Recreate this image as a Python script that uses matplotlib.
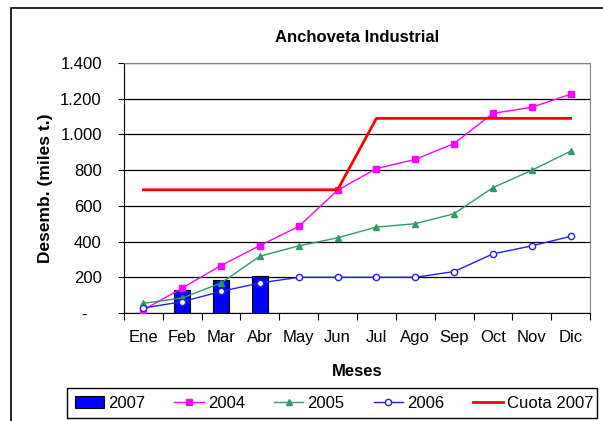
import matplotlib
matplotlib.use('Agg')
import matplotlib.pyplot as plt
from matplotlib.patches import Rectangle, Patch
from matplotlib.lines import Line2D
import numpy as np

plt.rcParams['font.family'] = ['Liberation Sans', 'DejaVu Sans']

# Datos
meses = ['Ene', 'Feb', 'Mar', 'Abr', 'May', 'Jun', 'Jul', 'Ago', 'Sep', 'Oct', 'Nov', 'Dic']
d2007 = [0, 129, 185, 208]
d2004 = [17, 140, 266, 378, 485, 687, 809, 860, 949, 1118, 1152, 1225]
d2005 = [54, 84, 168, 318, 376, 421, 481, 500, 556, 702, 799, 906]
d2006 = [28, 63, 121, 168, 200, 200, 200, 200, 232, 331, 376, 429]
cuota2007 = [690, 690, 690, 690, 690, 690, 1090, 1090, 1090, 1090, 1090, 1090]
yticks = [0, 200, 400, 600, 800, 1000, 1200, 1400]
ylabels = ['-   ', '200', '400', '600', '800', '1.000', '1.200', '1.400']

W, H = 603, 421
fig = plt.figure(figsize=(W / 100, H / 100), dpi=100)
ax = fig.add_axes([124 / W, 1 - 313 / H, 466 / W, 250 / H])

x = np.arange(len(meses))
ax.bar(x[:len(d2007)], d2007, width=0.41, color='#0000FF', edgecolor='black', linewidth=0.8, zorder=2)
ax.plot(x, d2004, color='#FF00FF', lw=1, marker='s', ms=4.5, zorder=3)
ax.plot(x, d2005, color='#339966', lw=1, marker='^', ms=5, zorder=3)
ax.plot(x, d2006, color='#2020F0', lw=1, marker='o', ms=4.5, mfc='white', mec='#2020F0', mew=1, zorder=3)
ax.plot(x, cuota2007, color='#FF0000', lw=2, zorder=4)

ax.set_xlim(-0.5, 11.5)
ax.set_ylim(0, 1400)
ax.set_yticks(yticks)
ax.set_yticklabels(ylabels, fontsize=12)
ax.set_xticks(np.arange(-0.5, 12, 1))
ax.set_xticklabels([])
ax.set_xticks(x, minor=True)
ax.set_xticklabels(meses, minor=True, fontsize=12)
ax.tick_params(axis='x', which='minor', length=0, pad=12)
ax.tick_params(axis='x', which='major', direction='out', length=5, color='black')
ax.tick_params(axis='y', direction='out', length=4, pad=12)
ax.yaxis.grid(True, color='black', lw=0.9)
ax.set_axisbelow(True)
ax.spines['top'].set_color('#808080')
ax.spines['right'].set_color('#808080')
ax.spines['left'].set_color('black')
ax.spines['bottom'].set_color('black')

ax.set_title('Anchoveta Industrial', fontsize=12, fontweight='bold', pad=15)
ax.set_xlabel('Meses', fontsize=12, fontweight='bold', labelpad=14)
ax.set_ylabel('Desemb. (miles t.)', fontsize=12.5, fontweight='bold', labelpad=5)

# Marco exterior
fig.patches.append(Rectangle((11 / W, -0.1), 1.2, 1.1 - 8 / H, transform=fig.transFigure,
                             fill=False, edgecolor='black', lw=1.2))
# Marco de la leyenda
fig.patches.append(Rectangle((67 / W, 1 - 418 / H), 530 / W, 30 / H, transform=fig.transFigure,
                             fill=False, edgecolor='black', lw=1))

handles = [Patch(facecolor='#0000FF', edgecolor='black', lw=0.8),
           Line2D([], [], color='#FF00FF', lw=1, marker='s', ms=4.5),
           Line2D([], [], color='#339966', lw=1, marker='^', ms=5),
           Line2D([], [], color='#2020F0', lw=1, marker='o', ms=4.5, mfc='white'),
           Line2D([], [], color='#FF0000', lw=2)]
leg = fig.legend(handles, ['2007', '2004', '2005', '2006', 'Cuota 2007'], ncol=5,
                 loc='center', bbox_to_anchor=(334 / W, 1 - 403 / H),
                 fontsize=12, frameon=False, handlelength=1.75, handletextpad=0.25,
                 columnspacing=1.75, borderaxespad=0, borderpad=0)

fig.savefig('out.png', dpi=100)
